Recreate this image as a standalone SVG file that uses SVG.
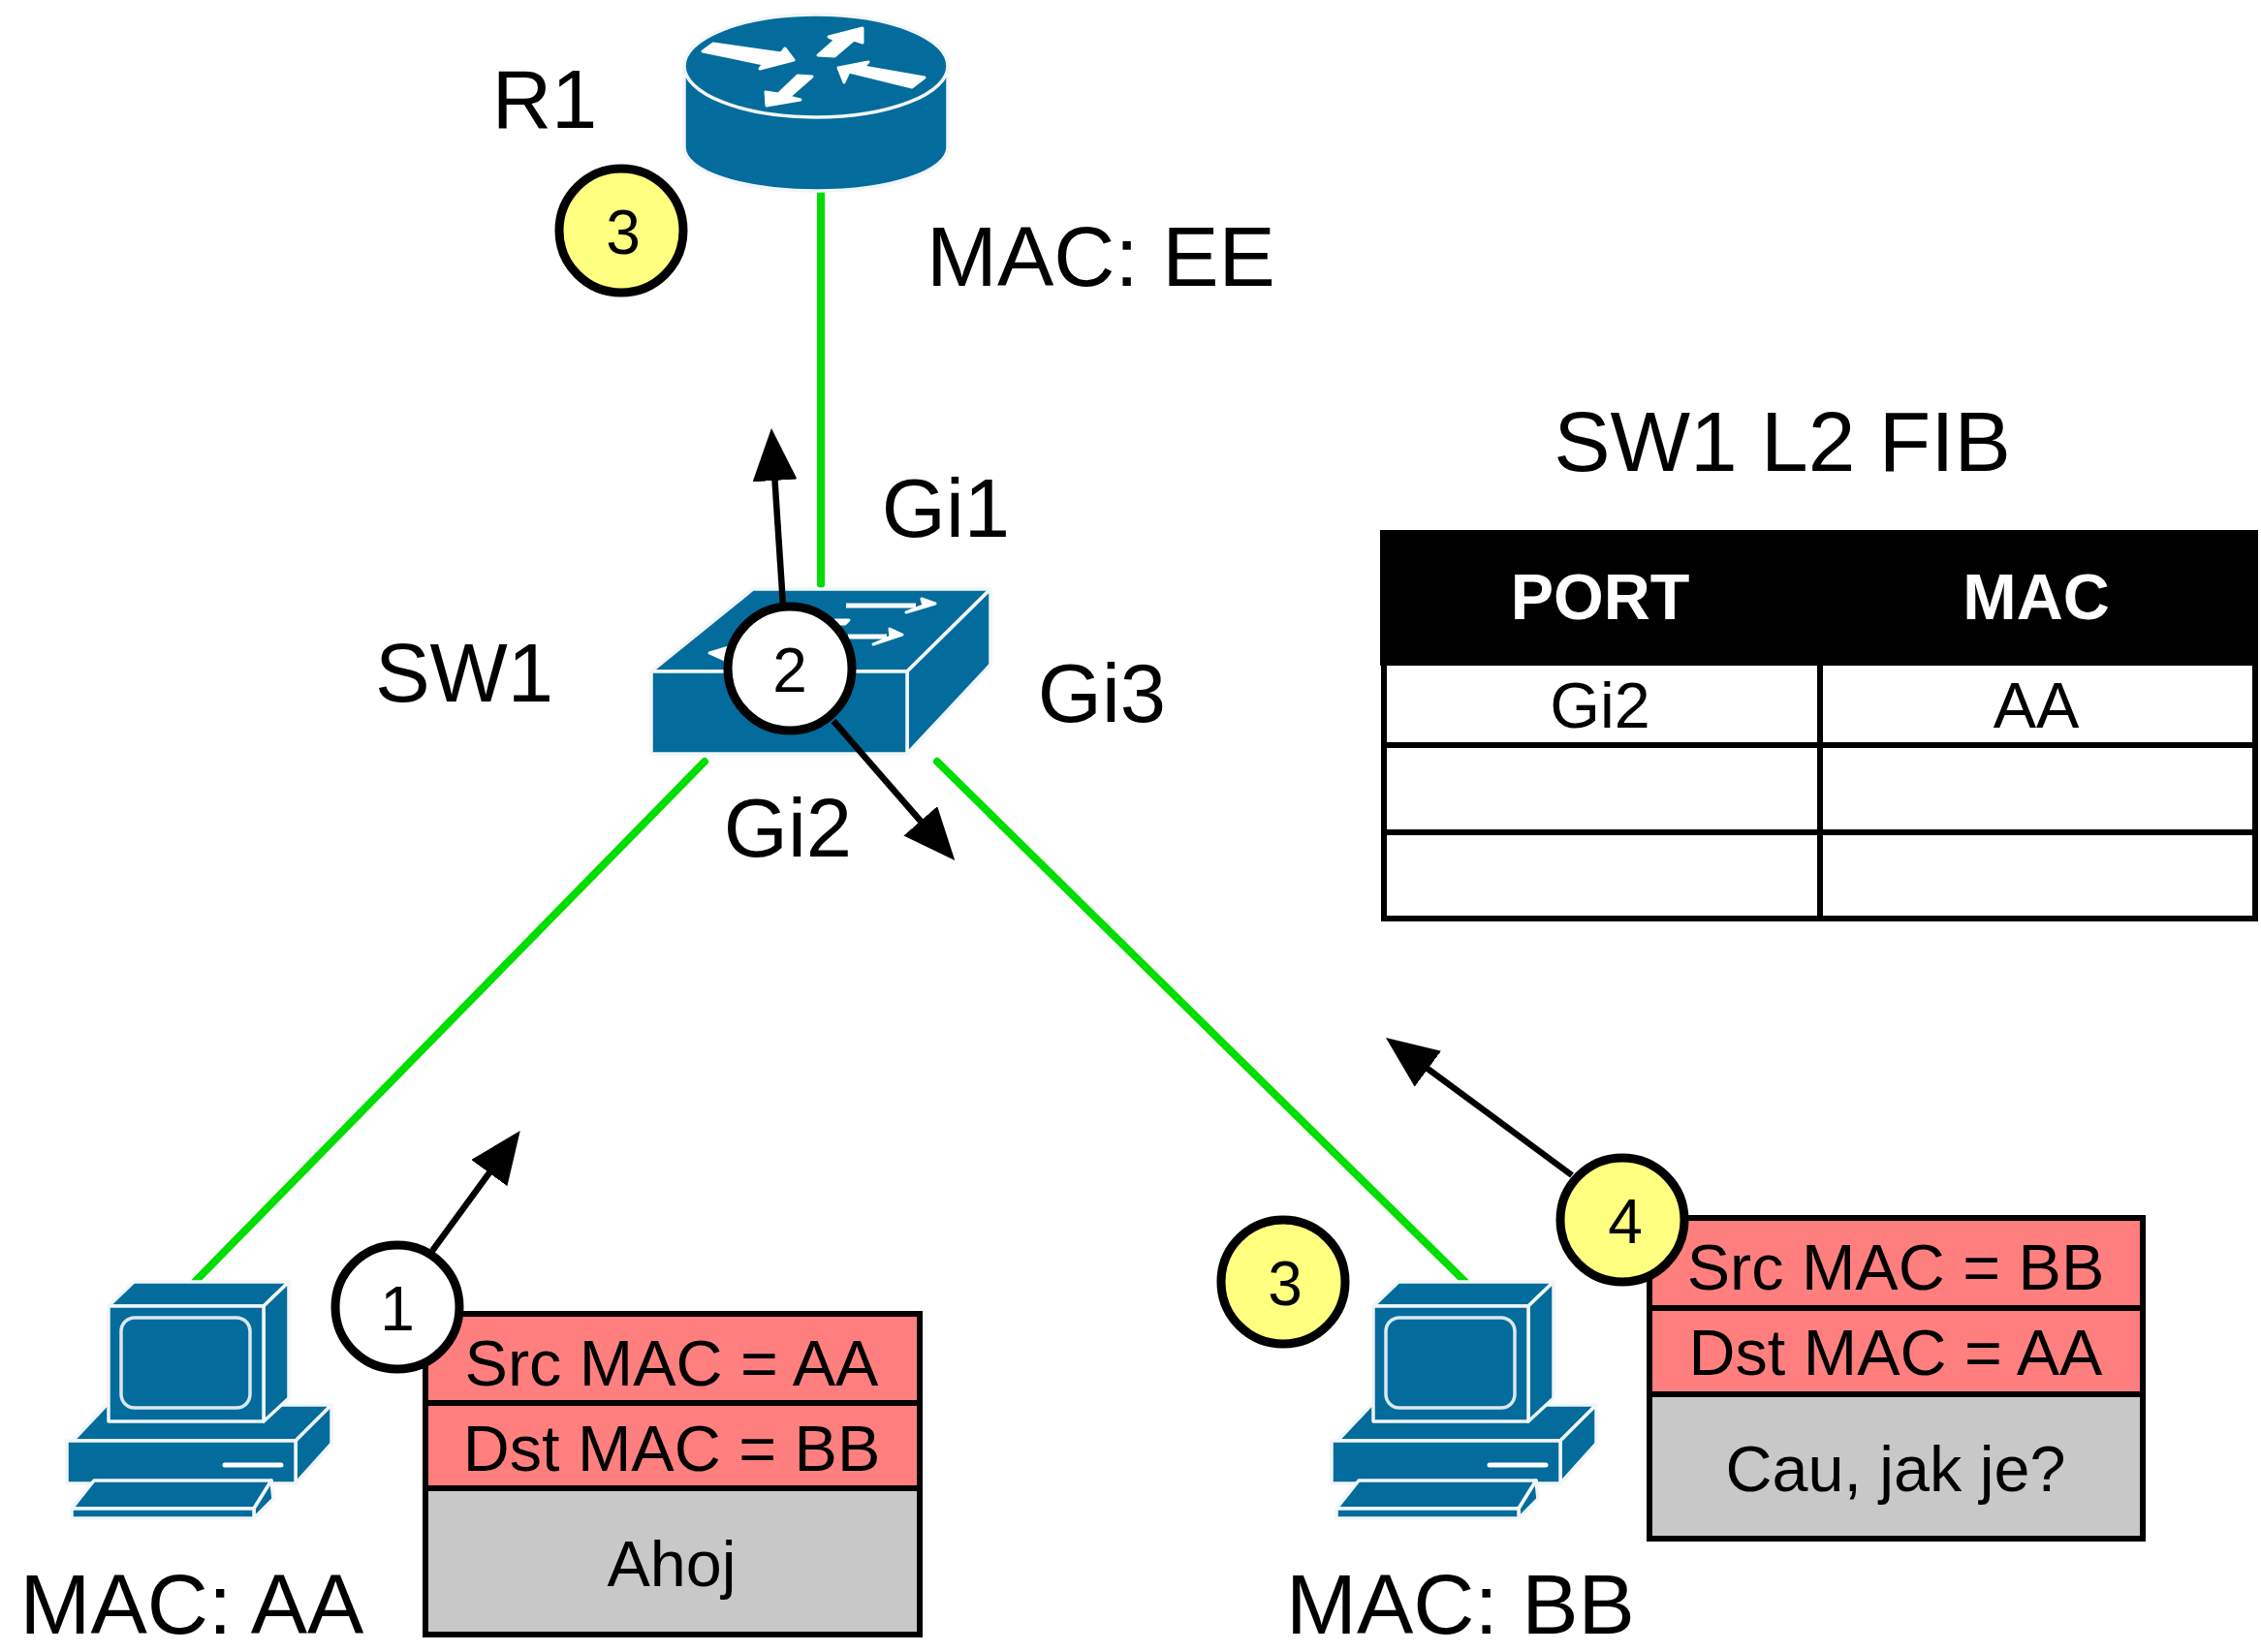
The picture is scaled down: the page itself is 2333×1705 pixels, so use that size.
<svg xmlns="http://www.w3.org/2000/svg" width="2333" height="1705" viewBox="0 0 2333 1705">
<defs>
<style>
text{font-family:"Liberation Sans",Arial,sans-serif;fill:#000;text-anchor:middle}
.big{font-size:85px}
.mac{font-size:87.5px}
.mid{font-size:66.5px}
.num{font-size:64px}
.b{font-weight:bold;fill:#fff}
.ic{fill:#036c9c;stroke:#f2f6f8;stroke-width:3.5;stroke-linejoin:round}
.ln{fill:none;stroke:#dbe8ef;stroke-width:3.5}
.w{fill:#fff;stroke:#fff;stroke-width:3;stroke-linejoin:round}
.wl{fill:none;stroke:#fff;stroke-width:5}
.g{stroke:#00dd00;stroke-width:8;fill:none;stroke-linecap:round}
.ar{stroke:#000;stroke-width:6.5;fill:none;marker-end:url(#ah)}
.c{stroke:#000;stroke-width:9}
.cell{stroke:#000;stroke-width:6}
.sep{stroke:#000;stroke-width:6;fill:none}
</style>
<marker id="ah" markerUnits="userSpaceOnUse" markerWidth="60" markerHeight="50" refX="46" refY="23" orient="auto">
<path d="M0 0L54 23L0 46Z" fill="#000"/>
</marker>
<g id="pc">
<path class="ic" d="M75 1487L110 1450H342L305 1487Z"/>
<path class="ic" d="M342 1450V1490L305 1531V1487Z"/>
<rect class="ic" x="69" y="1487" width="236" height="44"/>
<path class="wl" d="M232 1512H290" stroke-linecap="round"/>
<path class="ic" d="M138 1323H298L272 1348H112Z"/>
<path class="ic" d="M298 1323V1443L272 1467V1348Z"/>
<rect class="ic" x="112" y="1348" width="160" height="119"/>
<rect class="ln" x="125" y="1360" width="133" height="93" rx="14"/>
<path class="ic" d="M97 1528H280L262 1557H74Z"/>
<path class="ic" d="M280 1528L282 1547L262 1567V1557Z"/>
<rect class="ic" x="74" y="1557" width="188" height="10"/>
</g>
</defs>
<rect width="2333" height="1705" fill="#fff"/>

<g id="connectors">
<path class="g" d="M847 200V603"/>
<path class="g" d="M727 786L201 1323"/>
<path class="g" d="M967 786L1512 1323"/>
</g>

<g id="R1">
<path class="ic" d="M706 65V152C706 177 766 197 842 197C918 197 978 177 978 152V65Z"/>
<ellipse class="ic" cx="842" cy="68" rx="136" ry="53"/>
<path class="w" d="M725 53L736 45L806 55L810 50L819 62L784 71L788 66Z"/>
<path class="w" d="M844 57L861 58L881 41L890 44V29L855 38L862 41Z"/>
<path class="w" d="M954 80L941 90L876 74L871 85L865 70L896 64L891 69Z"/>
<path class="w" d="M838 79L823 78L803 97L790 95L791 109L826 103L814 100Z"/>
<text class="big" x="562" y="132">R1</text>
</g>
<text class="mac" x="1136" y="295">MAC: EE</text>

<g id="SW1">
<path class="ic" d="M777 608H1022L936 693H672Z"/>
<path class="ic" d="M1022 608V686L936 778V693Z"/>
<rect class="ic" x="672" y="693" width="264" height="85"/>
<path class="wl" d="M873 625H945"/>
<path class="w" d="M965 623L951 618L953 625L935 632Z"/>
<path class="wl" d="M875 657H915"/>
<path class="w" d="M931 655L918 649L919 657L901 665Z"/>
<path class="w" d="M862 640H876L872 644H860Z"/>
<path class="w" d="M732 674L752 668V683Z"/>
<text class="big" x="479" y="724">SW1</text>
</g>
<text class="big" x="976" y="554">Gi1</text>
<text class="big" x="1137" y="745">Gi3</text>
<text class="big" x="813" y="884">Gi2</text>

<g id="arrows">
<path class="ar" d="M808 625L796.5 450"/>
<path class="ar" d="M860 744L980 882"/>
<path class="ar" d="M446 1291L532 1173.5"/>
<path class="ar" d="M1622 1213L1436.4 1075.8"/>
</g>

<g id="PC1">
<use href="#pc"/>
<text class="mac" x="198" y="1686">MAC: AA</text>
</g>
<g id="PC2">
<use href="#pc" x="1305"/>
<text class="mac" x="1507" y="1686">MAC: BB</text>
</g>

<g id="fib">
<text class="mac" x="1839" y="486">SW1 L2 FIB</text>
<rect x="1427" y="550" width="900" height="134" fill="#000" stroke="#000" stroke-width="6"/>
<rect x="1428" y="684" width="899" height="264" fill="#fff" stroke="#000" stroke-width="6"/>
<path class="sep" d="M1428 769H2327M1428 859H2327M1878 684V948"/>
<text class="mid b" x="1651" y="639">PORT</text>
<text class="mid b" x="2101" y="639">MAC</text>
<text class="mid" x="1651" y="751">Gi2</text>
<text class="mid" x="2101" y="751">AA</text>
</g>

<g id="packet1">
<rect class="cell" x="439" y="1356" width="510" height="180" fill="#ff7f7f"/>
<rect class="cell" x="439" y="1536" width="510" height="151" fill="#c8c8c8"/>
<path class="sep" d="M439 1448H949"/>
<text class="mid" x="693" y="1430">Src MAC = AA</text>
<text class="mid" x="693" y="1518">Dst MAC = BB</text>
<text class="mid" x="693" y="1637">Ahoj</text>
</g>
<g id="packet2">
<rect class="cell" x="1702" y="1257" width="509" height="182" fill="#ff7f7f"/>
<rect class="cell" x="1702" y="1439" width="509" height="149" fill="#c8c8c8"/>
<path class="sep" d="M1702 1350H2211"/>
<text class="mid" x="1956" y="1331">Src MAC = BB</text>
<text class="mid" x="1956" y="1419">Dst MAC = AA</text>
<text class="mid" x="1956" y="1539">Cau, jak je?</text>
</g>

<g id="step1"><circle class="c" cx="410" cy="1349" r="64" fill="#fff"/><text class="num" x="410" y="1373">1</text></g>
<g id="step2"><circle class="c" cx="815" cy="690" r="64" fill="#fff"/><text class="num" x="815" y="714">2</text></g>
<g id="step3a"><circle class="c" cx="641" cy="238" r="64" fill="#ffff80"/><text class="num" x="643" y="262">3</text></g>
<g id="step3b"><circle class="c" cx="1324" cy="1323" r="64" fill="#ffff80"/><text class="num" x="1326" y="1347">3</text></g>
<g id="step4"><circle class="c" cx="1674" cy="1259" r="64" fill="#ffff80"/><text class="num" x="1677" y="1283">4</text></g>
</svg>
